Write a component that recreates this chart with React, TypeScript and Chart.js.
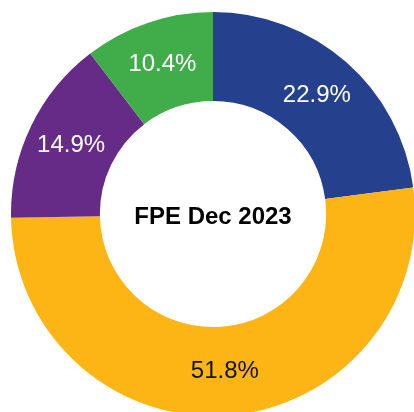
import React, { useEffect, useRef } from "react";
import { Chart, registerables } from "chart.js";

Chart.register(...registerables);

const categories = ["Blue", "Yellow", "Purple", "Green"];
const values = [22.9, 51.8, 14.9, 10.4];
const colors = ["#25418E", "#FDB515", "#652B86", "#41AC4A"];
const labelColors = ["#FFFFFF", "#111111", "#FFFFFF", "#FFFFFF"];
const centerTitle = "FPE Dec 2023";

const labelPlugin = {
  id: "sliceLabels",
  afterDatasetsDraw(chart: any) {
    const ctx = chart.ctx;
    const meta = chart.getDatasetMeta(0);
    ctx.save();
    ctx.textAlign = "center";
    ctx.textBaseline = "middle";
    ctx.font = "24px 'Liberation Sans', Arial, sans-serif";
    meta.data.forEach((arc: any, i: number) => {
      const p = arc.getProps(["x", "y", "startAngle", "endAngle", "innerRadius", "outerRadius"], true);
      const mid = (p.startAngle + p.endAngle) / 2;
      const r = (p.innerRadius + p.outerRadius) / 2;
      ctx.fillStyle = labelColors[i];
      ctx.fillText(values[i].toFixed(1) + "%", p.x + Math.cos(mid) * r, p.y + Math.sin(mid) * r);
    });
    const a: any = meta.data[0];
    ctx.fillStyle = "#000000";
    ctx.font = "bold 24px 'Liberation Sans', Arial, sans-serif";
    ctx.fillText(centerTitle, a.x, a.y + 3);
    ctx.restore();
  },
};

export default function App() {
  const ref = useRef<HTMLCanvasElement | null>(null);
  useEffect(() => {
    if (!ref.current) return;
    const chart = new Chart(ref.current, {
      type: "doughnut",
      data: {
        labels: categories,
        datasets: [
          {
            data: values,
            backgroundColor: colors,
            borderWidth: 0,
          },
        ],
      },
      options: {
        animation: false,
        responsive: false,
        maintainAspectRatio: false,
        cutout: "56%",
        layout: { padding: 0 },
        plugins: {
          legend: { display: false },
          tooltip: { enabled: false },
        },
      },
      plugins: [labelPlugin],
    });
    return () => chart.destroy();
  }, []);
  return (
    <div style={{ position: "fixed", left: 11, top: 12, width: 404, height: 404 }}>
      <canvas ref={ref} width={404} height={404} style={{ width: 404, height: 404, display: "block" }} />
    </div>
  );
}
